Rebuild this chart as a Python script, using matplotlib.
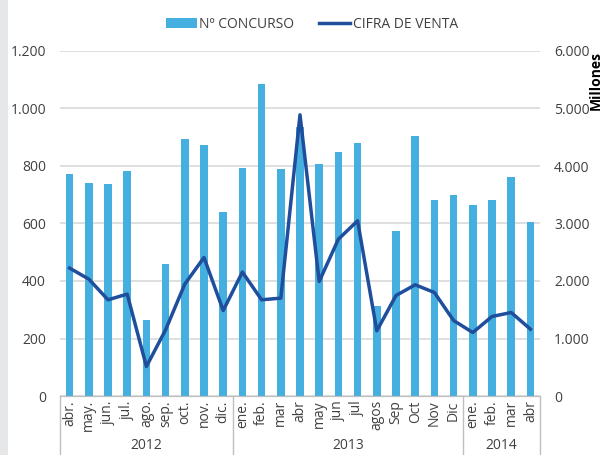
import numpy as np
import matplotlib
matplotlib.use('Agg')
import matplotlib.pyplot as plt
from matplotlib.lines import Line2D
from matplotlib.patches import Rectangle

plt.rcParams['font.family'] = ['Open Sans', 'DejaVu Sans']

# months (abr 2012 -> abr 2014)
months = ['abr.', 'may.', 'jun.', 'jul.', 'ago.', 'sep.', 'oct.', 'nov.', 'dic.',
          'ene.', 'feb.', 'mar', 'abr', 'may', 'jun', 'jul', 'agos', 'Sep', 'Oct', 'Nov', 'Dic',
          'ene.', 'feb.', 'mar', 'abr']
years = ['2012', '2013', '2014']
year_sizes = [9, 12, 4]

concursos = [772, 742, 738, 783, 265, 460, 893, 874, 641,
             794, 1086, 790, 934, 808, 848, 880, 314, 574, 906, 682, 700,
             663, 682, 762, 606]
cifra_venta = [2224, 2033, 1673, 1772, 513, 1151, 1946, 2409, 1487,
               2155, 1673, 1702, 4890, 1991, 2728, 3047, 1134, 1748, 1934, 1800, 1313,
               1104, 1383, 1452, 1163]

bar_color = '#45afdf'
line_color = '#1f4e9c'
grid_color = '#d9d9d9'
text_color = '#404040'

fig = plt.figure(figsize=(6.03, 4.55), dpi=100)
# light grey strip on the left edge
fig.patches.append(Rectangle((0, 0), 8 / 603, 1, transform=fig.transFigure,
                             facecolor='#e6e7e8', edgecolor='none', zorder=0))

ax = fig.add_axes([60 / 603, 59 / 455, 480 / 603, 345 / 455])
x = np.arange(len(months))

ax.bar(x, concursos, width=0.4, color=bar_color, zorder=2, label='Nº CONCURSO')
ax.set_xlim(-0.5, len(months) - 0.5)
ax.set_ylim(0, 1200)
ax.set_yticks(np.arange(0, 1201, 200))
ax.set_yticklabels(['0', '200', '400', '600', '800', '1.000', '1.200'])
ax.yaxis.grid(True, color=grid_color, linewidth=1.2, zorder=0)
ax.set_axisbelow(True)

ax2 = ax.twinx()
ax2.plot(x, cifra_venta, color=line_color, linewidth=2.5, zorder=3, label='CIFRA DE VENTA')
ax2.set_ylim(0, 6000)
ax2.set_yticks(np.arange(0, 6001, 1000))
ax2.set_yticklabels(['0', '1.000', '2.000', '3.000', '4.000', '5.000', '6.000'])

for a in (ax, ax2):
    for s in ['top', 'left', 'right']:
        a.spines[s].set_visible(False)
    a.spines['bottom'].set_color('#bfbfbf')
    a.tick_params(axis='y', length=0, labelsize=10, labelcolor=text_color)
ax.tick_params(axis='y', pad=10)
ax2.tick_params(axis='y', pad=10)

ax.set_xticks(x)
ax.set_xticklabels(months, rotation=90, fontsize=10, color=text_color, va='top')
ax.tick_params(axis='x', length=0, pad=3)

# group separators and year labels under the axis
bottom = -59 / 345
edges = np.concatenate([[0], np.cumsum(year_sizes)]) - 0.5
trans = ax.get_xaxis_transform()
for e in edges:
    ax.add_line(Line2D([e, e], [0, bottom], transform=trans, color='#bfbfbf',
                       linewidth=1, clip_on=False))
for i, yr in enumerate(years):
    ax.text((edges[i] + edges[i + 1]) / 2, -0.143, yr, transform=trans,
            ha='center', va='center', fontsize=10, color=text_color)

fig.text(596 / 603, 1 - 81 / 455, 'Millones', rotation=90, ha='center', va='center',
         fontsize=10, fontweight='bold', color='black')

h1, l1 = ax.get_legend_handles_labels()
h2, l2 = ax2.get_legend_handles_labels()
fig.legend(h1 + h2, l1 + l2, loc='center', bbox_to_anchor=(312 / 603, 1 - 24 / 455),
           ncol=2, frameon=False, fontsize=10, handlelength=2.2, handletextpad=0.2,
           columnspacing=1.8, labelcolor=text_color)

fig.savefig('out.png', dpi=100)
